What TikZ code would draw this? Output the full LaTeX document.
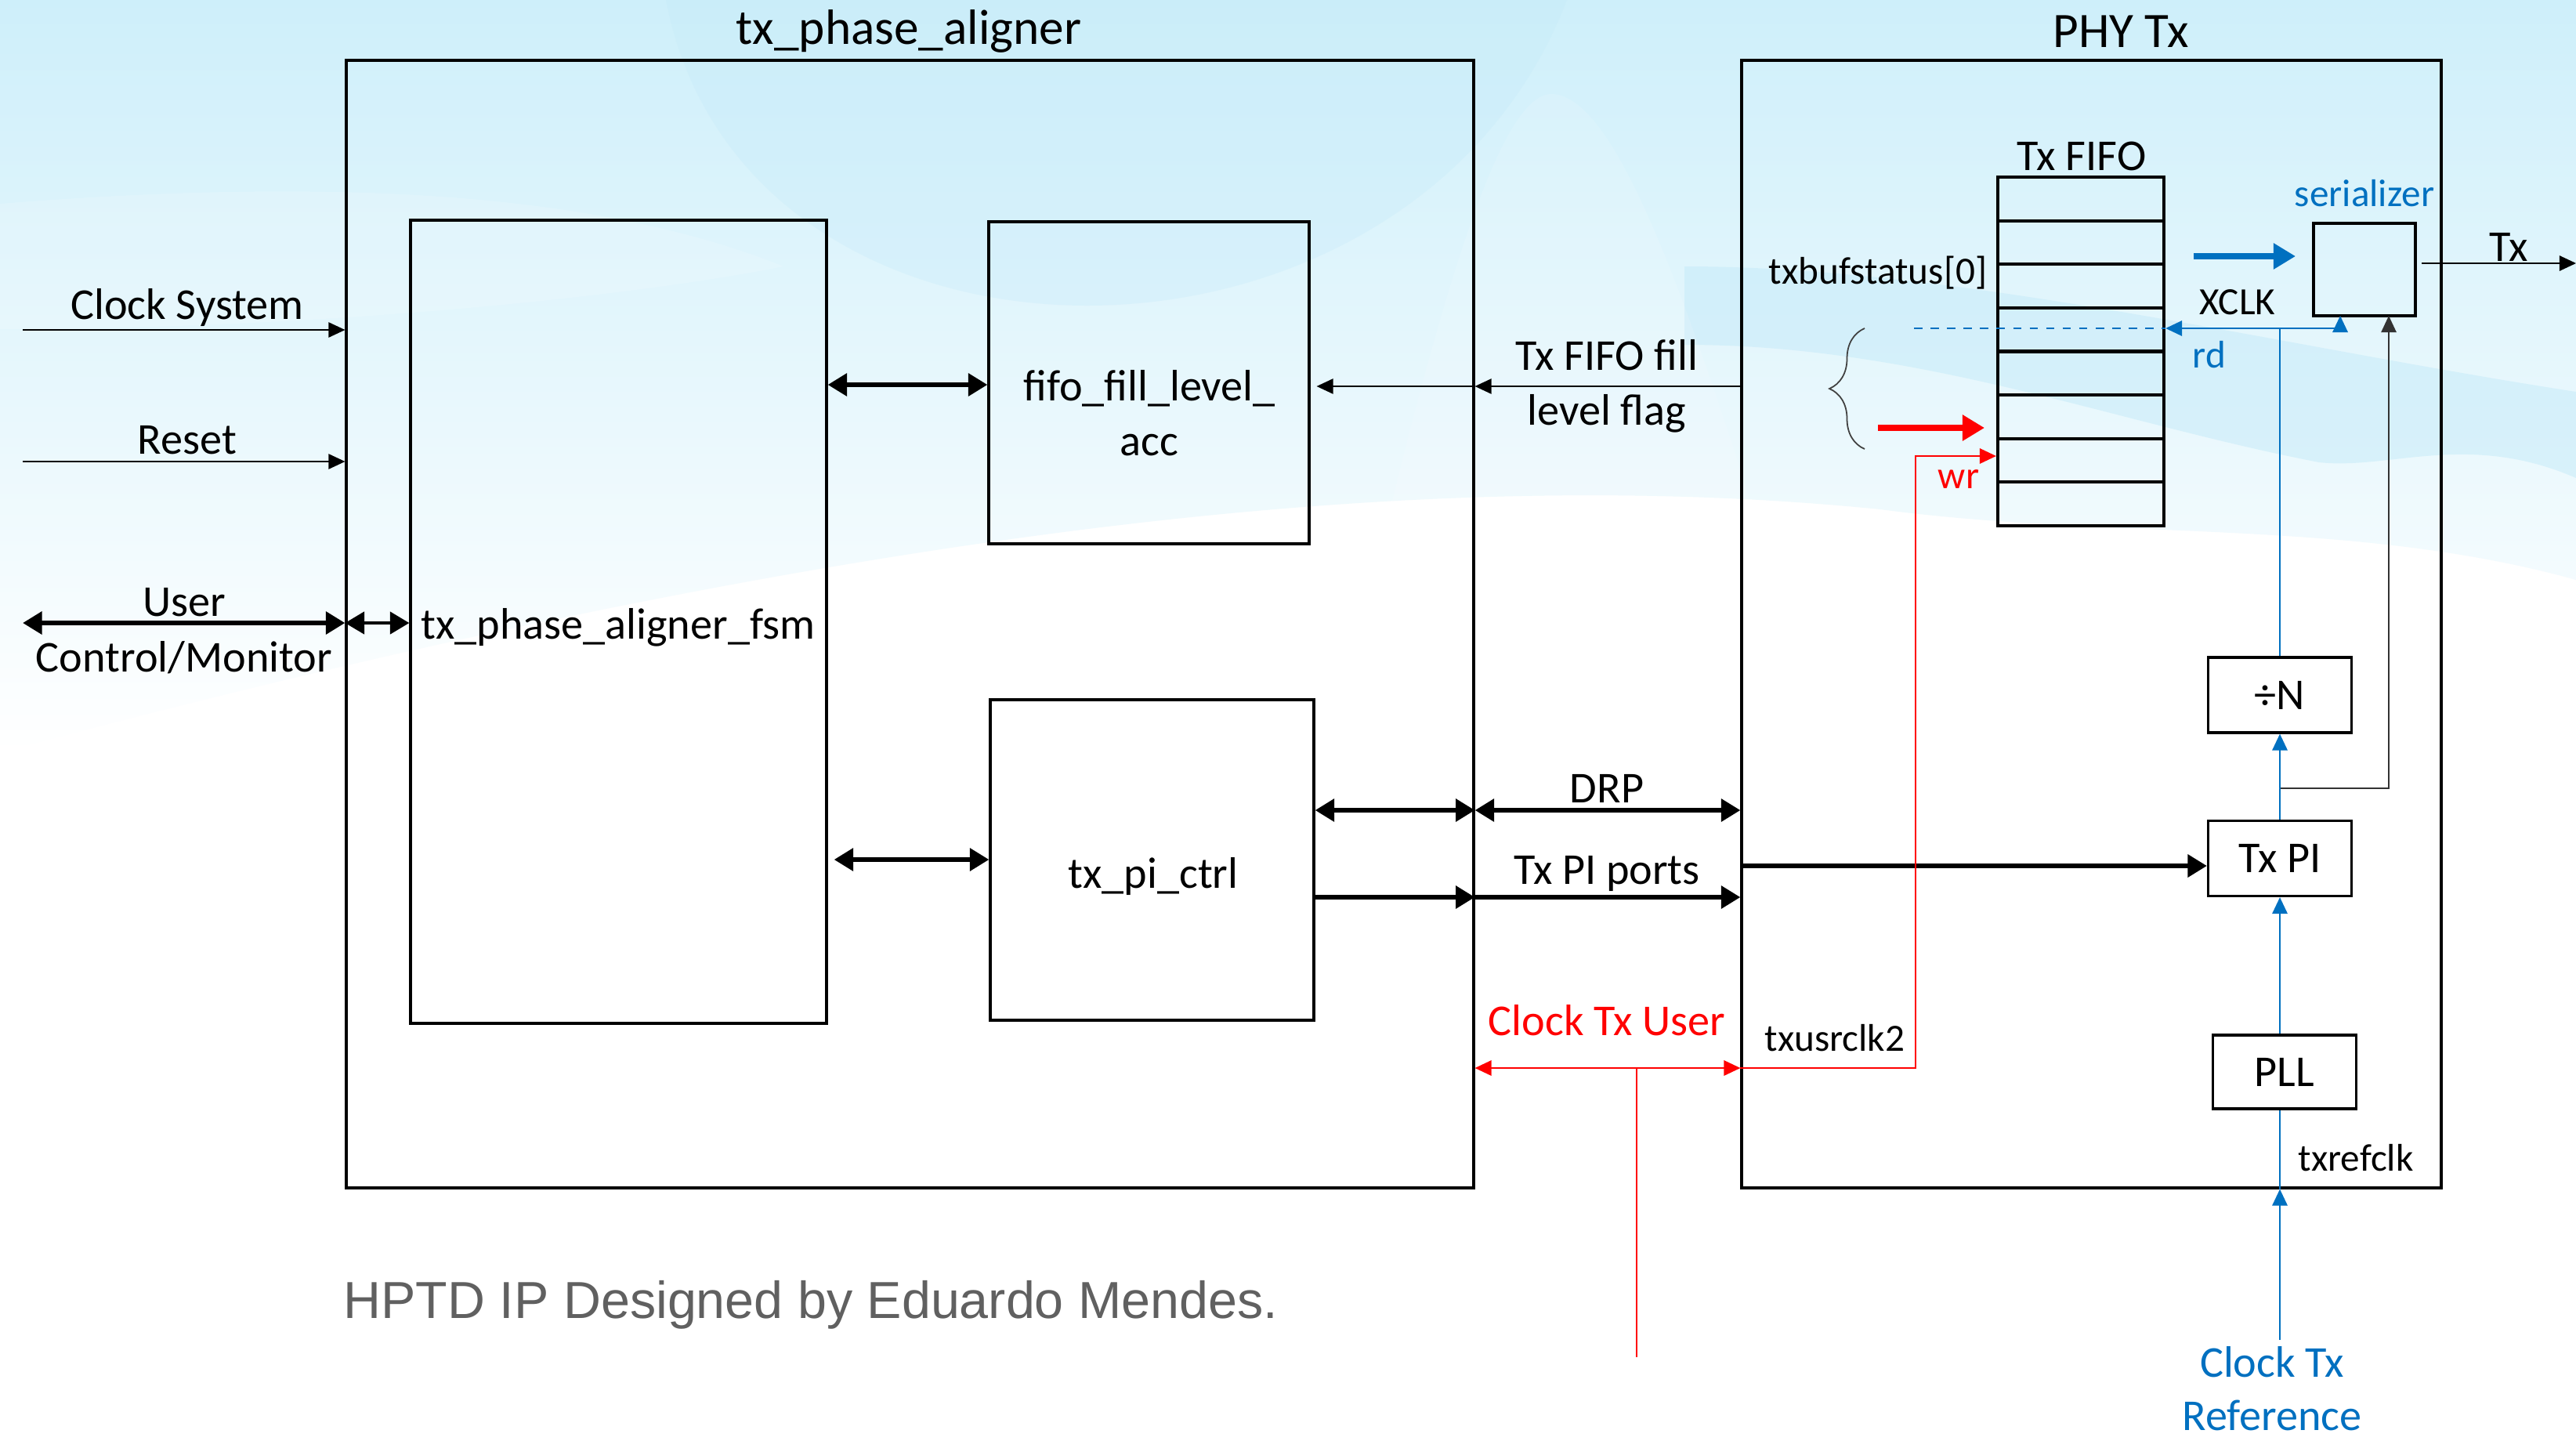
\documentclass[tikz,border=0pt]{standalone}
\usepackage{fontspec}
\setmainfont{Carlito}
\newfontfamily\footfont{Liberation Sans}
\usetikzlibrary{arrows.meta, positioning, calc, decorations.pathreplacing}
\definecolor{clkblue}{RGB}{0,112,192}
\definecolor{bgtop}{RGB}{206,239,250}
\definecolor{bgdark}{RGB}{196,234,249}
\definecolor{bgmid}{RGB}{226,251,255}
\definecolor{footgray}{RGB}{96,96,96}

\tikzset{
    block/.style={draw, rectangle, line width=0.9pt, inner sep=0pt},
    fifocell/.style={block, line width=1.2pt, minimum width=2.12cm, minimum height=0.556cm},
    title/.style={font=\fontsize{18}{22}\selectfont, inner sep=1pt},
    lbl/.style={font=\fontsize{16}{20}\selectfont, inner sep=1pt, align=center},
    smalllbl/.style={font=\fontsize{14}{17}\selectfont, inner sep=1pt},
    thinarrow/.style={->, line width=0.5pt},
    busarrow/.style={line width=1.8pt, >={Triangle[length=7pt,width=8pt]}},
    clkline/.style={clkblue, line width=0.7pt},
    redline/.style={red, line width=0.7pt},
}

\begin{document}
\begin{tikzpicture}[>={Triangle[length=6pt,width=5.5pt]}]
    \useasboundingbox (0,0) rectangle (32.88,-18.38);

    % Background
    \fill[white] (0,0) rectangle (32.88,-18.38);
    \shade[top color=bgtop, middle color=bgmid, bottom color=white]
        (0,0) -- (32.88,0) -- (32.88,-7.4)
        .. controls (30,-6.6) and (27,-6.9) .. (24,-6.5)
        .. controls (19,-6.0) and (12,-6.4) .. (0,-9.6) -- cycle;
    \fill[bgdark, opacity=0.3] (8.5,0) .. controls (9.5,-5.2) and (18,-5.2) .. (20,0) -- cycle;
    \fill[white, opacity=0.15] (0,-2.6) .. controls (5,-2.2) and (8,-2.6) .. (10,-3.4)
        .. controls (8,-3.8) and (4,-4.2) .. (0,-4.2) -- cycle;
    \fill[bgdark, opacity=0.5] (21.5,-3.4) .. controls (25,-3.4) and (29,-4.4) .. (32.88,-5.0)
        -- (32.88,-6.1) .. controls (31.5,-5.5) and (30.5,-6.0) .. (29.6,-5.9)
        .. controls (27,-5.4) and (24.5,-4.4) .. (21.5,-4.4) -- cycle;
    \fill[white, opacity=0.12] (16.5,-12) .. controls (18,-5) and (19,-1.2) .. (19.8,-1.2)
        .. controls (20.8,-1.2) and (22,-5) .. (24,-12) -- cycle;

    % tx_phase_aligner (x=11.6, y=-8)
    \node[block, minimum width=14.39cm, minimum height=14.39cm] (aligner) at (11.615,-7.965) {};
    \node[title] (alignertitle) at (11.60,-0.40) {tx\_phase\_aligner};

    % PHY Tx (x=26.7, y=-8)
    \node[block, minimum width=8.93cm, minimum height=14.39cm] (phy) at (26.695,-7.965) {};
    \node[title] (phytitle) at (27.07,-0.40) {PHY Tx};

    % FSM
    \node[block, minimum width=5.31cm, minimum height=10.25cm] (fsm) at (7.895,-7.935) {};
    \node[lbl] (fsmlbl) at (7.89,-8.01) {tx\_phase\_aligner\_fsm};

    % fifo_fill_level_acc
    \node[block, minimum width=4.09cm, minimum height=4.11cm] (fifoacc) at (14.665,-4.885) {};
    \node[lbl] (fifoacclbl) at (14.67,-5.27) {fifo\_fill\_level\_\\acc};

    % tx_pi_ctrl
    \node[block, minimum width=4.13cm, minimum height=4.09cm] (pictrl) at (14.705,-10.975) {};
    \node[lbl] (pictrllbl) at (14.72,-11.18) {tx\_pi\_ctrl};

    % Tx FIFO cells
    \foreach \i in {0,...,7}
        \node[fifocell] (cell\i) at (26.56,{-2.538-0.556*\i}) {};
    \node[lbl] (fifolbl) at (26.57,-1.99) {Tx FIFO};

    % Serializer
    \node[block, minimum width=1.30cm, minimum height=1.18cm] (ser) at (30.18,-3.44) {};
    \node[smalllbl, text=clkblue] (serlbl) at (30.18,-2.47) {serializer};

    % Divider, Tx PI, PLL
    \node[block, lbl, minimum width=1.83cm, minimum height=0.96cm] (divn) at (29.10,-8.87) {÷N};
    \node[block, lbl, minimum width=1.83cm, minimum height=0.96cm] (pi) at (29.10,-10.955) {Tx PI};
    \node[block, lbl, minimum width=1.83cm, minimum height=0.94cm] (pll) at (29.16,-13.68) {PLL};

    % Left side inputs
    \coordinate (clkin) at (0.29,-4.21);
    \coordinate (rstin) at (0.29,-5.89);
    \coordinate (usrin) at (0.29,-7.95);
    \draw[thinarrow] (clkin) -- (clkin -| aligner.west);
    \node[lbl] (clklbl) at (2.39,-3.92) {Clock System};
    \draw[thinarrow] (rstin) -- (rstin -| aligner.west);
    \node[lbl] (rstlbl) at (2.39,-5.62) {Reset};
    \draw[busarrow, <->] (usrin) -- (usrin -| aligner.west);
    \draw[busarrow, line width=1.2pt, <->] (usrin -| aligner.west) -- (usrin -| fsm.west);
    \node[lbl] (usrlbl) at (2.35,-8.05) {User\\Control/Monitor};

    % FSM links
    \coordinate (fifoy) at (0,-4.91);
    \coordinate (ctrly) at (0,-10.97);
    \draw[busarrow, <->] (fsm.east |- fifoy) -- (fifoacc.west |- fifoy);
    \draw[busarrow, <->] ([xshift=0.08cm]fsm.east |- ctrly) -- (pictrl.west |- ctrly);

    % Tx FIFO fill level flag
    \coordinate (flagy) at (0,-4.93);
    \draw[thinarrow] (phy.west |- flagy) -- (aligner.east |- flagy);
    \draw[thinarrow] (aligner.east |- flagy) -- ([xshift=0.08cm]fifoacc.east |- flagy);
    \node[lbl] (flaglbl) at (20.51,-4.93) {Tx FIFO fill\\level flag};

    % DRP and Tx PI ports
    \coordinate (drpy) at (0,-10.34);
    \coordinate (piy) at (0,-11.45);
    \coordinate (piin) at (0,-11.05);
    \draw[busarrow, <->] (pictrl.east |- drpy) -- (aligner.east |- drpy);
    \draw[busarrow, <->] (aligner.east |- drpy) -- (phy.west |- drpy);
    \node[lbl] (drplbl) at (20.51,-10.06) {DRP};
    \draw[busarrow, ->] (pictrl.east |- piy) -- (aligner.east |- piy);
    \draw[busarrow, ->] (aligner.east |- piy) -- (phy.west |- piy);
    \node[lbl] (pilbl) at (20.51,-11.15) {Tx PI ports};
    \draw[busarrow, ->] (phy.west |- piin) -- (pi.west |- piin);

    % Clock Tx User
    \coordinate (usrclky) at (0,-13.63);
    \coordinate (usrclkin) at (20.89,-17.32);
    \draw[redline, <->] (aligner.east |- usrclky) -- (phy.west |- usrclky);
    \draw[redline] (usrclkin) -- (usrclkin |- usrclky);
    \node[lbl, text=red] (usrclklbl) at (20.51,-13.02) {Clock Tx User};
    \node[smalllbl] (txusrlbl) at (23.42,-13.25) {txusrclk2};

    % Write side
    \coordinate (wrturn) at (24.45,-5.82);
    \draw[redline, ->] (phy.west |- usrclky) -| (wrturn) -- (wrturn -| cell6.west);
    \node[smalllbl, text=red] (wrlbl) at (25.00,-6.12) {wr};
    \coordinate (wrptr) at (23.97,-5.46);
    \draw[red, line width=2.5pt, -{Triangle[length=8pt,width=9pt]}] (wrptr) -- ++(1.36,0);
    \draw[decorate, decoration={brace, amplitude=0.45cm}, line width=0.5pt, black!75]
        (23.80,-5.73) -- (23.80,-4.19);
    \node[smalllbl] (statuslbl) at (23.97,-3.48) {txbufstatus[0]};

    % Read side
    \coordinate (rdjoin) at (29.10,-4.19);
    \coordinate (rdstart) at (24.43,-4.19);
    \coordinate (serclk) at (29.87,-4.03);
    \draw[clkline, dashed, line width=0.6pt] (rdstart) -- (rdstart -| cell3.east);
    \draw[clkline, line width=0.5pt] (divn.north) -- (rdjoin);
    \draw[clkline, ->] (rdjoin) -- (rdjoin -| cell3.east);
    \draw[clkline, ->] (rdjoin) -| (serclk);
    \node[smalllbl] (xclklbl) at (28.56,-3.86) {XCLK};
    \node[smalllbl, text=clkblue] (rdlbl) at (28.20,-4.53) {rd};
    \coordinate (dataptr) at (28.00,-3.27);
    \draw[clkblue, line width=2.5pt, -{Triangle[length=8pt,width=9pt]}] (dataptr) -- ++(1.30,0);

    % Serializer output
    \coordinate (txout) at (30.91,-3.36);
    \coordinate (txend) at (32.88,-3.36);
    \draw[thinarrow] (txout) -- (txend);
    \node[lbl] (txlbl) at (32.02,-3.15) {Tx};

    % Clock chain
    \coordinate (fbjoin) at (29.10,-10.06);
    \coordinate (serfb) at (30.49,-4.03);
    \draw[thinarrow, black!80] (fbjoin) -| (serfb);
    \draw[clkline, ->] (pi.north) -- (divn.south);
    \draw[clkline, ->] (pll.north -| pi.south) -- (pi.south);
    \coordinate (refin) at (29.10,-17.10);
    \draw[clkline, ->] (refin) -- (refin |- phy.south);
    \draw[clkline] (refin |- phy.south) -- (refin |- pll.south);
    \node[smalllbl] (reflbl) at (30.07,-14.78) {txrefclk};
    \node[lbl, text=clkblue, font=\fontsize{16}{19.5}\selectfont] (refinlbl) at (29.00,-17.72) {Clock Tx\\Reference};

    % Credit
    \node[anchor=west, inner sep=0pt, text=footgray, font=\footfont\fontsize{18.9}{22}\selectfont]
        (credit) at (4.38,-16.65) {HPTD IP Designed by Eduardo Mendes.};
\end{tikzpicture}
\end{document}
